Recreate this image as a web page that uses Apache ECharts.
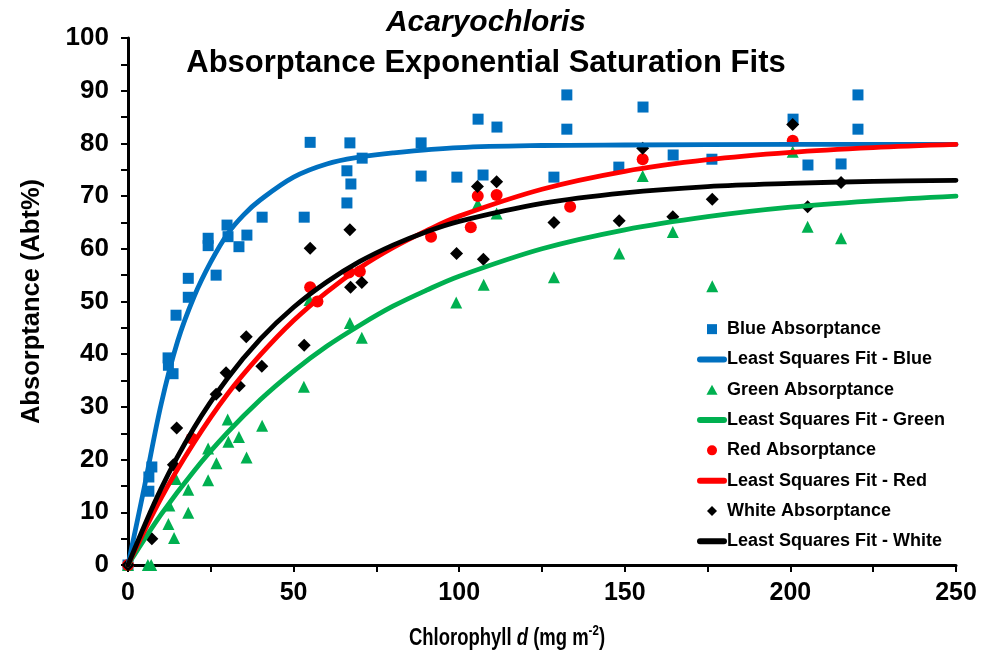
<!DOCTYPE html>
<html>
<head>
<meta charset="utf-8">
<script src="https://cdn.jsdelivr.net/npm/echarts@6/dist/echarts.min.js"></script>
<style>
html,body{margin:0;padding:0;background:#fff;}
#chart{width:989px;height:662px;}
</style>
</head>
<body>
<div id="chart"></div>
<script>
// ---- Data ----
var blueData = [[0,0],[6.3,14.0],[6.3,16.7],[7.2,18.6],[12.1,39.3],[12.2,37.9],[13.6,36.3],[14.5,47.4],[18.2,54.4],[18.2,50.8],[24.2,62.0],[24.2,60.6],[26.6,55.0],[29.9,64.5],[30.2,62.3],[33.5,60.4],[35.9,62.6],[40.5,66.0],[53.2,66.0],[55,80.2],[66.1,74.8],[66.1,68.7],[67,80.1],[67.3,72.3],[70.7,77.2],[88.5,80.1],[88.5,73.8],[99.3,73.6],[105.7,84.6],[107.2,74.0],[111.4,83.1],[128.6,73.6],[132.5,89.2],[132.5,82.7],[148.2,75.5],[155.5,86.9],[164.6,77.8],[176.3,77.0],[200.8,84.6],[205.3,75.9],[215.3,76.1],[220.4,89.2],[220.4,82.7]];
var blueFit = [[0,0],[5,15],[10,30.5],[15,42.5],[20,51],[25,57.5],[30,62.8],[35,66.5],[40,69.3],[50,73.6],[60,76.1],[70,77.4],[80,78.2],[100,79.2],[125,79.6],[150,79.7],[200,79.8],[250,79.8]];

var greenData = [[0,0],[6,0],[7,0],[12.2,7.8],[12.5,11.3],[13.9,5.1],[14.5,16.3],[18.2,14.3],[18.2,9.9],[24.2,16.1],[24.2,22.1],[26.7,19.3],[30.1,27.6],[30.3,23.4],[33.5,24.3],[35.8,20.4],[40.5,26.4],[53.1,33.8],[54.8,50.3],[67,45.9],[70.6,43.1],[99.1,49.8],[105.6,68.5],[107.4,53.2],[111.3,66.7],[128.6,54.6],[148.3,59.1],[155.4,73.8],[164.5,63.2],[176.4,52.9],[200.7,78.4],[205.2,64.2],[215.3,62.0]];
var greenFit = [[0,0],[10,9.6],[20,17.9],[30,25.1],[40,31.4],[50,36.8],[60,41.5],[70,45.5],[80,49.1],[90,52.1],[100,54.8],[125,60.0],[150,63.6],[175,66.1],[200,67.9],[225,69.1],[250,70.0]];

var redData = [[0,0],[19.2,24.0],[55,52.7],[57.2,50.0],[66.7,55.5],[70,55.7],[91.5,62.3],[103.5,64.1],[105.6,70.0],[111.3,70.2],[133.5,68.0],[155.4,77.0],[200.7,80.5]];
var redFit = [[0,0],[10,12.7],[20,23.3],[30,32.4],[40,39.9],[50,46.4],[60,51.8],[70,56.4],[80,60.2],[90,63.4],[100,66.2],[125,71.3],[150,74.7],[175,76.9],[200,78.3],[225,79.2],[250,79.8]];

var whiteData = [[0,0],[7.2,5.0],[13.7,19.0],[14.7,26.0],[26.6,32.4],[29.6,36.5],[33.6,34.0],[35.7,43.3],[40.4,37.7],[53.2,41.7],[55,60.1],[67,63.6],[67.2,52.7],[70.6,53.6],[99.2,59.1],[105.5,71.8],[107.3,58.0],[111.3,72.7],[128.6,65.0],[148.3,65.3],[155.4,79.1],[164.5,66.1],[176.4,69.4],[200.7,83.6],[205.2,68.0],[215.3,72.6]];
var whiteFit = [[0,0],[10,14.5],[20,26.1],[30,35.4],[40,42.9],[50,48.9],[60,53.7],[70,57.6],[80,60.7],[90,63.2],[100,65.2],[125,68.6],[150,70.6],[175,71.8],[200,72.4],[225,72.8],[250,73.0]];

var seriesNames = ['Blue Absorptance','Least Squares Fit - Blue','Green Absorptance','Least Squares Fit - Green','Red Absorptance','Least Squares Fit - Red','White Absorptance','Least Squares Fit - White'];
var titleLine1 = 'Acaryochloris';
var titleLine2 = 'Absorptance Exponential Saturation Fits';
var yAxisTitle = 'Absorptance (Abt%)';
var xTitleParts = ['Chlorophyll ', 'd', ' (mg m', '-2', ')'];

var COL = {blue:'#0070C0', green:'#00B050', red:'#FF0000', black:'#000000'};
var FONT = 'Arial, "Liberation Sans", Helvetica, sans-serif';

var ICON = {
  square:'path://M0,0L10,0L10,10L0,10Z',
  triangle:'path://M5,0L10,9L0,9Z',
  circle:'path://M5,0A5,5,0,1,1,5,10A5,5,0,1,1,5,0Z',
  diamond:'path://M5,0L10,5L5,10L0,5Z',
  line:'path://M3,0L27,0A3,3,0,0,1,27,6L3,6A3,3,0,0,1,3,0Z'
};

function scatter(name, data, symbol, size, color){
  return {name:name, type:'scatter', data:data, symbol:symbol, symbolSize:size,
    itemStyle:{color:color, opacity:1}, emphasis:{disabled:true}};
}
function fit(name, data, color){
  return {name:name, type:'line', data:data, smooth:0.35, showSymbol:false, symbol:'none',
    lineStyle:{color:color, width:4.8, cap:'round'}, itemStyle:{color:color}, emphasis:{disabled:true}};
}

var legendIcons = [ICON.square, ICON.line, ICON.triangle, ICON.line, ICON.circle, ICON.line, ICON.diamond, ICON.line];
var legendData = seriesNames.map(function(n, i){
  return {name:n, icon:legendIcons[i], itemStyle:{borderWidth:0}, lineStyle:{width:0}};
});

var chart = echarts.init(document.getElementById('chart'), null, {renderer:'canvas'});
chart.setOption({
  animation:false,
  backgroundColor:'#ffffff',
  title:{
    left:481, top:-2, textAlign:'center',
    text:'{a|' + titleLine1 + '}\n{b|' + titleLine2 + '}',
    textStyle:{
      rich:{
        a:{fontFamily:FONT, fontSize:30, fontWeight:'bold', fontStyle:'italic', color:'#000', lineHeight:40},
        b:{fontFamily:FONT, fontSize:31, fontWeight:'bold', color:'#000', lineHeight:40}
      }
    }
  },
  legend:{
    orient:'vertical', left:692, top:314,
    itemWidth:30, itemHeight:10, itemGap:10, symbolKeepAspect:true,
    textStyle:{fontFamily:FONT, fontSize:18, fontWeight:'bold', color:'#000', lineHeight:20.3, padding:[0,0,0,-5]},
    data:legendData
  },
  grid:{left:128, right:33, top:38, bottom:97, containLabel:false},
  xAxis:{
    type:'value', min:0, max:250, interval:50,
    axisLine:{show:true, onZero:false, lineStyle:{color:'#000', width:3}},
    axisTick:{show:true, inside:false, length:7, lineStyle:{color:'#000', width:2}},
    minorTick:{show:true, splitNumber:2, length:7, lineStyle:{color:'#000', width:2}},
    splitLine:{show:false},
    axisLabel:{fontFamily:FONT, fontSize:25, fontWeight:'bold', color:'#000', margin:16}
  },
  yAxis:{
    type:'value', min:0, max:100, interval:10,
    axisLine:{show:true, onZero:false, lineStyle:{color:'#000', width:3}},
    axisTick:{show:true, inside:false, length:7, lineStyle:{color:'#000', width:2}},
    minorTick:{show:true, splitNumber:2, length:7, lineStyle:{color:'#000', width:2}},
    splitLine:{show:false},
    axisLabel:{fontFamily:FONT, fontSize:26, fontWeight:'bold', color:'#000', margin:19},
    name:yAxisTitle, nameLocation:'middle', nameGap:83, nameRotate:90,
    nameTextStyle:{fontFamily:FONT, fontSize:25.5, fontWeight:'bold', color:'#000'}
  },
  graphic:[{
    type:'text', x:507, y:638, scaleX:0.77, scaleY:1, originX:0, originY:0,
    style:{
      text:'{n|' + xTitleParts[0] + '}{i|' + xTitleParts[1] + '}{n|' + xTitleParts[2] + '}{s|' + xTitleParts[3] + '}{n|' + xTitleParts[4] + '}',
      align:'center', verticalAlign:'middle',
      rich:{
        n:{fontFamily:FONT, fontSize:24, fontWeight:'bold', fill:'#000', color:'#000'},
        i:{fontFamily:FONT, fontSize:24, fontWeight:'bold', fontStyle:'italic', fill:'#000', color:'#000'},
        s:{fontFamily:FONT, fontSize:15, fontWeight:'bold', fill:'#000', color:'#000', padding:[0,0,14,0]}
      }
    }
  }],
  series:[
    scatter(seriesNames[0], blueData, 'rect', 11, COL.blue),
    fit(seriesNames[1], blueFit, COL.blue),
    scatter(seriesNames[2], greenData, 'triangle', 12, COL.green),
    fit(seriesNames[3], greenFit, COL.green),
    scatter(seriesNames[4], redData, 'circle', 12, COL.red),
    fit(seriesNames[5], redFit, COL.red),
    scatter(seriesNames[6], whiteData, 'diamond', 13, COL.black),
    fit(seriesNames[7], whiteFit, COL.black)
  ]
});
</script>
</body>
</html>
